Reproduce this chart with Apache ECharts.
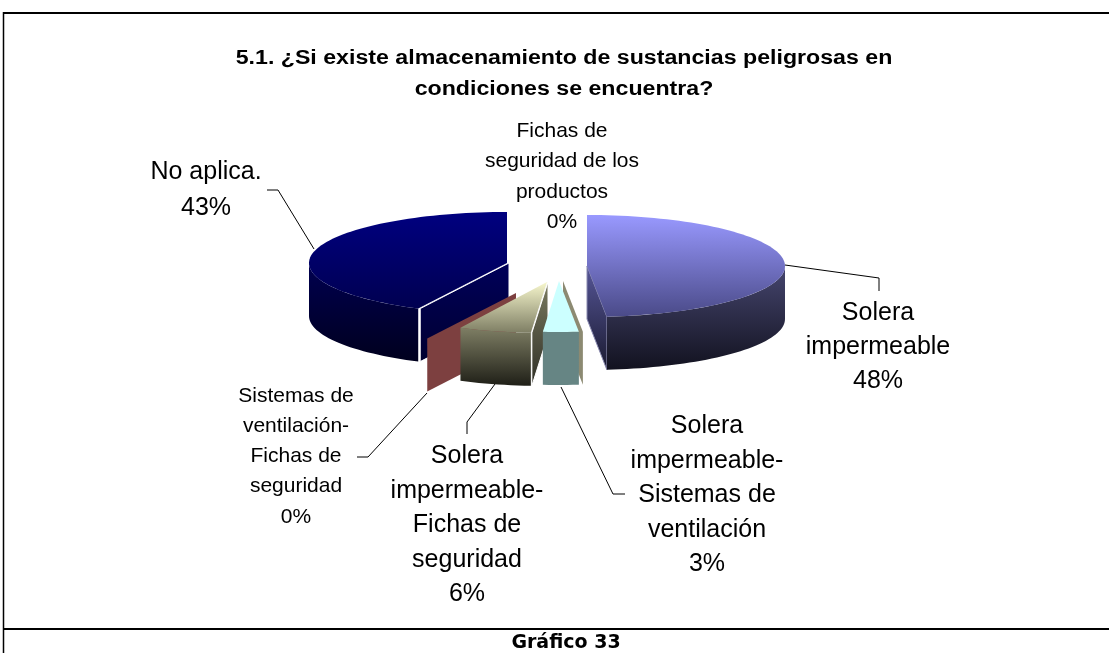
<!DOCTYPE html>
<html>
<head>
<meta charset="utf-8">
<title>Gráfico 33</title>
<script src="https://cdn.jsdelivr.net/npm/echarts@6/dist/echarts.min.js"></script>
<style>
  html, body { margin: 0; padding: 0; background: #fff; }
  #main { width: 1109px; height: 653px; }
</style>
</head>
<body>
<div id="main"></div>
<script>
// values, clockwise from 12 o'clock
const names = [
  'Solera\nimpermeable',
  'Solera\nimpermeable-\nSistemas de\nventilación',
  'Solera\nimpermeable-\nFichas de\nseguridad',
  'Sistemas de\nventilación-\nFichas de\nseguridad',
  'No aplica.',
  'Fichas de\nseguridad de los\nproductos'
];
const values = [48.4, 2.9, 5.9, 0.2, 42.6, 0];
const chartTitle = '5.1. ¿Si existe almacenamiento de sustancias peligrosas en\ncondiciones se encuentra?';
const footer = 'Gráfico 33';

// 3d look of the pie: ellipse radii, rim height
const RX = 198, RY = 51, DEPTH = 53;

// one entry per slice: exploded centre, colours, label and leader line
const looks = [
  { cx: 587, cy: 266, z: 5, top: ['#9999ff', '#4a4a88'], rim: ['#46466f', '#12121f'],
    wall: ['#565698', '#1a1a30'], wallAt: 'end', wallLine: '#8a8ab0',
    label: [878, 296], size: 25, lh: 34, leader: [[785, 265], [879, 278], [879, 291]] },
  { cx: 559, cy: 281, z: 4, top: ['#ccffff', '#ccffff'], rim: ['#668584', '#668584'],
    wall: ['#8c8a72', '#8c8a72'], wallAt: 'start', wallShift: 4,
    label: [707, 409], size: 25, lh: 34.5, leader: [[561, 387], [613, 494], [625, 494]] },
  { cx: 547, cy: 282, z: 3, top: ['#f7f7cd', '#7e7e64'], rim: ['#7e7e64', '#1f1f17'],
    wall: ['#7a7a60', '#2f2f26'], wallAt: 'start', wallShift: 1, wallLine: '#ffffff',
    label: [467, 439], size: 25, lh: 34.5, leader: [[467, 434], [467, 422], [495, 384]] },
  { cx: 513, cy: 293, z: 2, top: ['#7d4040', '#7d4040'], rim: ['#7d4040', '#7d4040'],
    wall: ['#7d4040', '#7d4040'], wallAt: 'end', wallShift: 3,
    label: [296, 381], size: 21, lh: 30.2, leader: [[357, 457], [368, 457], [427, 393]] },
  { cx: 507, cy: 263, z: 1, top: ['#000080', '#000050'], rim: ['#000050', '#00001e'],
    wall: ['#00005a', '#000030'], wallAt: 'start', wallShift: 2, wallLine: '#ffffff',
    label: [206, 154], size: 25, lh: 36, leader: [[267, 190], [278, 190], [314, 249]] },
  { cx: 547, cy: 263, z: 0, top: ['#fff', '#fff'], rim: ['#fff', '#fff'],
    wall: ['#fff', '#fff'], wallAt: 'end',
    label: [562, 116], size: 21, lh: 30.4, leader: null }
];

const total = values.reduce((a, b) => a + b, 0);

function vgrad(c) {
  return new echarts.graphic.LinearGradient(0, 0, 0, 1, [
    { offset: 0, color: c[0] },
    { offset: 1, color: c[1] }
  ]);
}

function ell(look, deg, dy, shift) {
  const a = deg * Math.PI / 180;
  return [look.cx + (shift || 0) + RX * Math.sin(a), look.cy + RY * (-Math.cos(a)) + (dy || 0)];
}

function arc(look, from, to, dy) {
  const pts = [];
  const n = Math.max(2, Math.ceil((to - from) / 2));
  for (let k = 0; k <= n; k++) pts.push(ell(look, from + (to - from) * k / n, dy));
  return pts;
}

function renderSlice(params, api) {
  const i = params.dataIndex;
  const look = looks[i];
  const v = api.value(0);
  const start = values.slice(0, i).reduce((a, b) => a + b, 0) / total * 360;
  const end = start + v / total * 360;
  const kids = [];

  if (v > 0) {
    // cut face
    const wa = look.wallAt === 'start' ? start : end;
    const sh = look.wallShift || 0;
    const apex = [look.cx + sh, look.cy];
    const edge = ell(look, wa, 0, sh);
    kids.push({
      type: 'polygon',
      z2: look.z,
      shape: { points: [apex, edge, [edge[0], edge[1] + DEPTH], [apex[0], apex[1] + DEPTH]] },
      style: { fill: vgrad(look.wall), stroke: look.wallLine || null, lineWidth: 1 }
    });
    // outer rim, only the part facing us
    const a0 = Math.max(start, 90), a1 = Math.min(end, 270);
    if (a1 > a0 && v > 1) {
      const upper = arc(look, a0, a1, 0);
      const lower = arc(look, a0, a1, DEPTH).reverse();
      kids.push({
        type: 'polygon',
        z2: look.z,
        shape: { points: upper.concat(lower) },
        style: { fill: vgrad(look.rim) }
      });
    }
    // top face
    if (v > 1) {
      kids.push({
        type: 'polygon',
        z2: look.z,
        shape: { points: [[look.cx, look.cy]].concat(arc(look, start, end, 0)) },
        style: { fill: vgrad(look.top) }
      });
    }
  }

  if (look.leader) {
    kids.push({
      type: 'polyline',
      z2: 10,
      shape: { points: look.leader },
      style: { fill: null, stroke: '#000', lineWidth: 1 }
    });
  }
  kids.push({
    type: 'text',
    z2: 11,
    style: {
      x: look.label[0],
      y: look.label[1],
      text: names[i] + '\n' + Math.round(v) + '%',
      fontFamily: 'Liberation Sans',
      fontSize: look.size,
      lineHeight: look.lh,
      textAlign: 'center',
      textVerticalAlign: 'top',
      fill: '#000'
    }
  });
  return { type: 'group', children: kids };
}

const chart = echarts.init(document.getElementById('main'), null, { renderer: 'canvas' });
chart.setOption({
  animation: false,
  backgroundColor: '#ffffff',
  graphic: [
    // table frame round the chart
    { type: 'line', shape: { x1: 3, y1: 13, x2: 1109, y2: 13 }, style: { stroke: '#000', lineWidth: 2 } },
    { type: 'line', shape: { x1: 3, y1: 629, x2: 1109, y2: 629 }, style: { stroke: '#000', lineWidth: 2 } },
    { type: 'line', shape: { x1: 3.5, y1: 12, x2: 3.5, y2: 653 }, style: { stroke: '#000', lineWidth: 1.5 } },
    {
      // the original title is stretched wide, so scale it
      type: 'text',
      x: 564,
      y: 74,
      scaleX: 1.188,
      style: {
        x: 0, y: 0, text: chartTitle, textAlign: 'center', textVerticalAlign: 'middle',
        fontFamily: 'Liberation Sans', fontWeight: 'bold', fontSize: 19.5, lineHeight: 31, fill: '#000'
      }
    },
    {
      type: 'text',
      style: {
        x: 566, y: 643, text: footer, textAlign: 'center', textVerticalAlign: 'middle',
        fontFamily: 'DejaVu Sans', fontWeight: 'bold', fontSize: 19, fill: '#000'
      }
    }
  ],
  series: [{
    type: 'custom',
    coordinateSystem: 'none',
    renderItem: renderSlice,
    silent: true,
    data: values.map(v => [v])
  }]
});
</script>
</body>
</html>
